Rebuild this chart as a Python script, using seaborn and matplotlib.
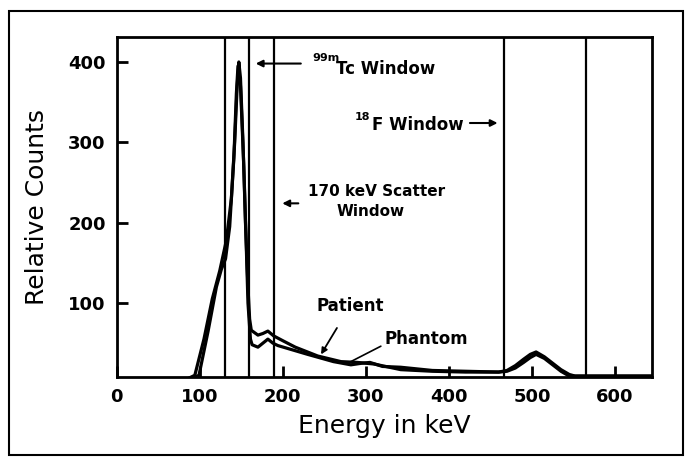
import pandas as pd
import matplotlib.pyplot as plt
import seaborn as sns
from matplotlib.patches import Rectangle

# Spectrum (energy in keV, relative counts)
patient_energy = [86, 94, 105, 115, 124, 132, 138, 142, 145, 147, 149, 152, 155, 158, 160, 162,
                  170, 176, 182, 189, 200, 215, 242, 270, 290, 310, 342, 380, 420, 460,
                  470, 480, 490, 498, 505, 515, 525, 535, 545, 552, 600, 645]
patient_counts = [6, 10, 55, 105, 140, 178, 230, 300, 370, 400, 380, 300, 200, 120, 80, 66,
                  60, 62, 65, 59, 53, 45, 34, 27, 26, 24, 17, 15, 14, 14,
                  16, 22, 30, 36, 39, 33, 25, 17, 11, 9, 9, 9]

phantom_energy = [90, 99, 110, 120, 126, 131, 136, 141, 144, 146, 149, 153, 156, 158, 161, 163,
                  170, 176, 182, 188, 194, 230, 261, 282, 295, 305, 320, 342, 380, 420, 460,
                  470, 480, 490, 498, 505, 515, 525, 535, 545, 552, 600, 645]
phantom_counts = [6, 10, 65, 120, 142, 155, 195, 280, 360, 395, 370, 270, 170, 100, 55, 48,
                  45, 50, 55, 50, 47, 36, 27, 23, 25, 26, 21, 20, 16, 15, 14,
                  15, 19, 26, 32, 36, 31, 23, 15, 9, 9, 9, 9]

window_edges = [130, 159, 189, 466, 565]
x_ticks = [0, 100, 200, 300, 400, 500, 600]
y_ticks = [100, 200, 300, 400]

df = pd.concat([
    pd.DataFrame({'energy': patient_energy, 'counts': patient_counts, 'source': 'Patient'}),
    pd.DataFrame({'energy': phantom_energy, 'counts': phantom_counts, 'source': 'Phantom'}),
])

sns.set_style('ticks')
plt.rcParams['font.family'] = ['DejaVu Sans']
for key in ['text.color', 'axes.labelcolor', 'xtick.color', 'ytick.color', 'axes.edgecolor']:
    plt.rcParams[key] = 'black'

fig = plt.figure(figsize=(6.91, 4.63), dpi=100)
ax = fig.add_axes([0.169, 0.186, 0.775, 0.734])

sns.lineplot(data=df, x='energy', y='counts', hue='source', units='source', estimator=None,
             sort=False, palette=['black', 'black'], linewidth=2.3, legend=False, ax=ax)

for e in window_edges:
    ax.axvline(e, color='black', lw=1.6)

ax.set_xlim(0, 645)
ax.set_ylim(8, 431)
ax.set_xticks(x_ticks)
ax.set_yticks(y_ticks)
ax.tick_params(direction='in', length=8, width=2, labelsize=13, pad=8)
for lab in ax.get_xticklabels() + ax.get_yticklabels():
    lab.set_fontweight('bold')
for s in ax.spines.values():
    s.set_visible(True)
    s.set_linewidth(2)
ax.set_xlabel('Energy in keV', fontsize=18, labelpad=6)
ax.set_ylabel('Relative Counts', fontsize=18, labelpad=14)

# window labels and arrows
arrow = dict(arrowstyle='-|>', color='black', lw=1.5, mutation_scale=10)
ax.annotate('', xy=(164, 398), xytext=(225, 398), arrowprops=arrow)
ax.text(236, 405, '99m', fontsize=8, fontweight='bold', va='center')
ax.text(264, 391, 'Tc Window', fontsize=12, fontweight='bold', va='center')

ax.annotate('', xy=(462, 324), xytext=(422, 324), arrowprops=arrow)
ax.text(287, 331, '18', fontsize=8, fontweight='bold', va='center')
ax.text(307, 321, 'F Window', fontsize=12, fontweight='bold', va='center')

ax.annotate('', xy=(196, 224), xytext=(222, 224), arrowprops=arrow)
ax.text(230, 239, '170 keV Scatter', fontsize=11, fontweight='bold', va='center')
ax.text(306, 214, 'Window', fontsize=11, fontweight='bold', va='center', ha='center')

ax.annotate('Patient', xy=(246, 36), xytext=(281, 96), fontsize=12, fontweight='bold',
            ha='center', va='center',
            arrowprops=dict(arrowstyle='-|>', color='black', lw=1.3, mutation_scale=9,
                            shrinkA=8, shrinkB=0))
ax.annotate('Phantom', xy=(280, 26), xytext=(322, 55), fontsize=12, fontweight='bold',
            ha='left', va='center',
            arrowprops=dict(arrowstyle='-', color='black', lw=1.2, shrinkA=0, shrinkB=0,
                            relpos=(0, 0.2)))

# border around the whole figure
fig.patches.append(Rectangle((0.013, 0.017), 0.975, 0.96, transform=fig.transFigure,
                             fill=False, edgecolor='black', lw=1.5))

fig.savefig('out.png', dpi=100)
